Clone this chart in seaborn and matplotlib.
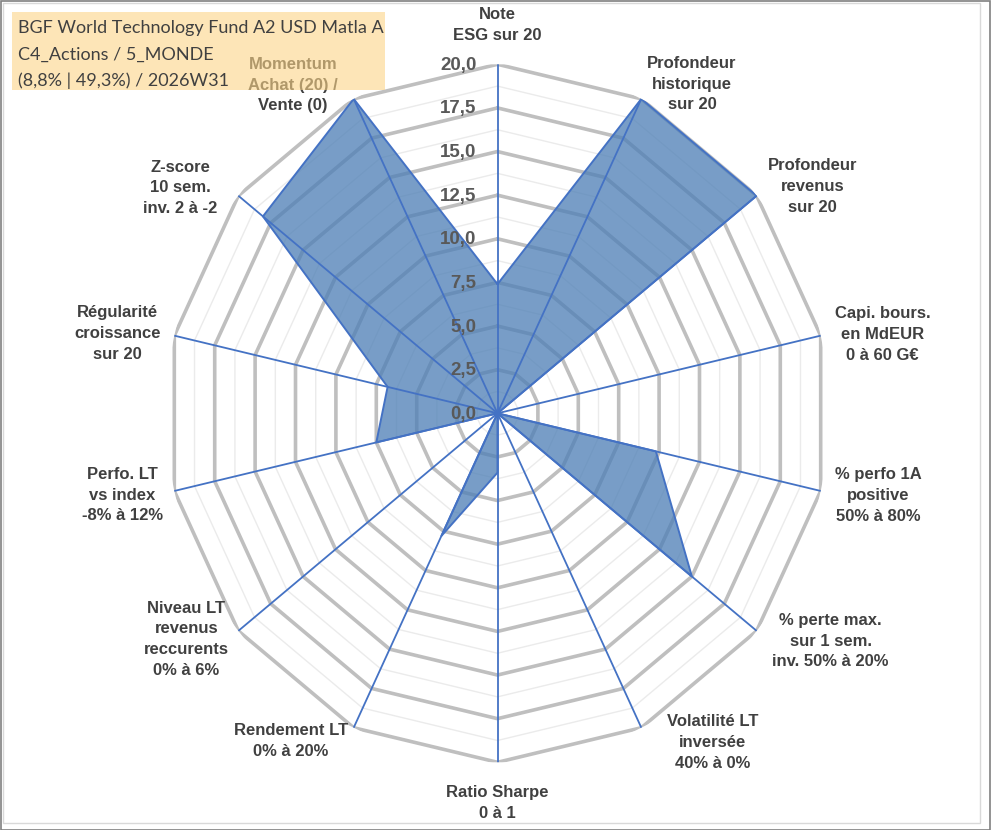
import numpy as np
import pandas as pd
import matplotlib
matplotlib.use("Agg")
import matplotlib.pyplot as plt
import matplotlib.transforms as mtransforms
from matplotlib.patches import Rectangle
import seaborn as sns

# ---------------- data ----------------
categories = [
    "Note\nESG sur 20",
    "Profondeur\nhistorique\nsur 20",
    "Profondeur\nrevenus\nsur 20",
    "Capi. bours.\nen MdEUR\n0 à 60 G€",
    "% perfo 1A\npositive\n50% à 80%",
    "% perte max.\nsur 1 sem.\ninv. 50% à 20%",
    "Volatilité LT\ninversée\n40% à 0%",
    "Ratio Sharpe\n0 à 1",
    "Rendement LT\n0% à 20%",
    "Niveau LT\nrevenus\nreccurents\n0% à 6%",
    "Perfo. LT\nvs index\n-8% à 12%",
    "Régularité\ncroissance\nsur 20",
    "Z-score\n10 sem.\ninv. 2 à -2",
    "Momentum\nAchat (20) /\nVente (0)",
]
scores = [7.4, 20, 20, 0, 9.8, 15, 0, 3.4, 7.8, 0, 7.5, 6.8, 18.1, 20]
major_ticks = [0, 2.5, 5, 7.5, 10, 12.5, 15, 17.5, 20]
minor_ticks = [1.25, 3.75, 6.25, 8.75, 11.25, 13.75, 16.25, 18.75]
title_lines = ["BGF World Technology Fund A2 USD Matla A",
               "C4_Actions / 5_MONDE",
               "(8,8% | 49,3%) / 2026W31"]

# label placement (angle in degrees clockwise from top, radius as share of max)
label_angle = [0, 31.9, 55.6, 79, 101.6, 123, 145.5, 180, 213.6, 235.4, 258.3, 281.3, 304, 326.7]
label_rad = [1.112, 1.111, 1.151, 1.183, 1.173, 1.198, 1.145, 1.117, 1.128, 1.140, 1.155, 1.169, 1.155, 1.125]

# ---------------- style ----------------
sns.set_theme(style="white")
plt.rcParams["font.family"] = ["Liberation Sans", "DejaVu Sans"]

W, H = 991, 830
fig = plt.figure(figsize=(W / 100, H / 100), dpi=100)
fig.patch.set_facecolor("white")

cx, cy, hr, vr = 497.5, 413.3, 331.5, 349.0
ax = fig.add_axes([(cx - hr) / W, (H - cy - vr) / H, 2 * hr / W, 2 * vr / H],
                  projection="polar")
ax.set_aspect("auto")
ax.set_theta_zero_location("N")
ax.set_theta_direction(-1)
ax.set_ylim(0, 20)
ax.grid(False)
ax.set_xticks([])
ax.set_yticks([])
ax.spines["polar"].set_visible(False)
ax.patch.set_alpha(0)

n = len(categories)
theta = np.linspace(0, 2 * np.pi, n, endpoint=False)
theta_closed = np.append(theta, theta[0])

# polygon grid
for r in minor_ticks:
    ax.plot(theta_closed, [r] * (n + 1), color="#ebebeb", lw=1.0, zorder=1)
for r in major_ticks[1:]:
    ax.plot(theta_closed, [r] * (n + 1), color="#bfbfbf", lw=2.6, zorder=1.5,
            solid_joinstyle="miter")

# series
df = pd.DataFrame({"theta": theta_closed, "score": scores + [scores[0]]})
ax.fill(df["theta"], df["score"], color="#4e7fb6", alpha=0.76, zorder=2, lw=0)
sns.lineplot(data=df, x="theta", y="score", sort=False, estimator=None, ax=ax,
             color="#4472c4", lw=1.4, zorder=3)
ax.set_xlabel("")
ax.set_ylabel("")

# spokes
for t in theta:
    ax.plot([t, t], [0, 20], color="#4472c4", lw=1.3, zorder=3.5)

# tick labels
off = mtransforms.offset_copy(ax.transData, fig=fig, x=-21, y=-1, units="dots")
for r in major_ticks:
    ax.text(0, r, f"{r:.1f}".replace(".", ","), transform=off, ha="right", va="center",
            fontsize=13.5, fontweight="bold", color="#595959", zorder=5)

# category labels
for lab, a, rr in zip(categories, label_angle, label_rad):
    ax.text(np.deg2rad(a), rr * 20, lab, ha="center", va="center", fontsize=12,
            fontweight="bold", color="#404040", linespacing=1.48, zorder=5)

# title box (overlays the momentum label, semi-transparent)
fig.patches.append(Rectangle((12 / W, 1 - 90 / H), (385 - 12) / W, (90 - 12) / H,
                             transform=fig.transFigure, facecolor="#fcd487", alpha=0.6,
                             edgecolor="none", zorder=10))
for i, line in enumerate(title_lines):
    fig.text(18 / W, 1 - (28.5 + 26 * i) / H, line, ha="left", va="center",
             fontsize=13, family=["Lato", "DejaVu Sans"], color="#404040", zorder=11)

# chart frame
fig.patches.append(Rectangle((3 / W, 1 - 823 / H), 977 / W, 820 / H, transform=fig.transFigure,
                             facecolor="none", edgecolor="#d9d9d9", lw=1.0, zorder=12))
fig.patches.append(Rectangle((0.5 / W, 0.5 / H), (W - 1.5) / W, (H - 1.5) / H,
                             transform=fig.transFigure, facecolor="none",
                             edgecolor="#808080", lw=1.2, zorder=12))

fig.savefig("out.png", dpi=100)
